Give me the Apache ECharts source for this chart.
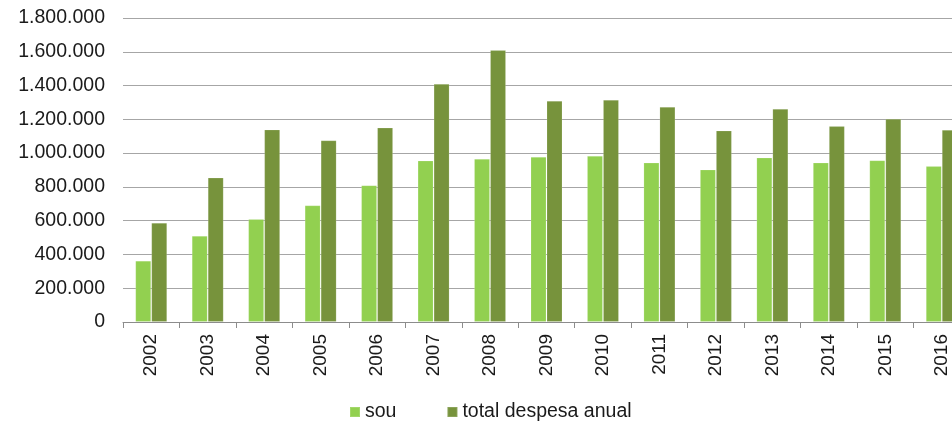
<!DOCTYPE html>
<html>
<head>
<meta charset="utf-8">
<script src="https://cdn.jsdelivr.net/npm/echarts@6/dist/echarts.min.js"></script>
<style>
  html, body { margin: 0; padding: 0; background: #fff; }
  #chart { width: 952px; height: 423px; }
</style>
</head>
<body>
<div id="chart"></div>
<script>
// data
const years = ['2002', '2003', '2004', '2005', '2006', '2007', '2008', '2009',
               '2010', '2011', '2012', '2013', '2014', '2015', '2016']
const sou = [363000, 510000, 610000, 691000, 810000, 956000, 966000, 978000,
             984000, 944000, 903000, 974000, 944000, 958000, 923000]
const totalDespesa = [588000, 855000, 1140000, 1076000, 1151000, 1410000, 1610000, 1310000,
                      1316000, 1274000, 1134000, 1262000, 1160000, 1203000, 1138000]

const fmt = v => String(v).replace(/\B(?=(\d{3})+(?!\d))/g, '.')

const myChart = echarts.init(document.getElementById('chart'))
const font = 'Liberation Sans, Arial, sans-serif'

const option = {
  animation: false,
  textStyle: { fontFamily: font },
  legend: {
    left: 349,
    top: 402,
    padding: 0,
    itemWidth: 10,
    itemHeight: 10,
    itemGap: 50,
    icon: 'rect',
    textStyle: { fontSize: 19.5, color: '#1a1a1a', fontFamily: font, padding: [0, 0, 0, 0] },
    data: ['sou', 'total despesa anual']
  },
  grid: {
    left: 123,
    width: 847,
    top: 18,
    bottom: 101,
    containLabel: false,
    outerBoundsMode: 'none'
  },
  xAxis: {
    type: 'category',
    data: years,
    axisLine: { lineStyle: { color: '#8c8c8c', width: 1 } },
    axisTick: { show: true, length: 6, lineStyle: { color: '#8c8c8c' } },
    axisLabel: {
      rotate: 90,
      fontSize: 19,
      color: '#1a1a1a',
      fontFamily: font,
      margin: 12
    }
  },
  yAxis: {
    type: 'value',
    min: 0,
    max: 1800000,
    interval: 200000,
    axisLine: { show: false },
    axisTick: { show: false },
    splitLine: { lineStyle: { color: '#a6a6a6', width: 1 } },
    axisLabel: {
      fontSize: 19.5,
      color: '#1a1a1a',
      fontFamily: font,
      margin: 18,
      formatter: fmt
    }
  },
  series: [
    {
      name: 'sou',
      type: 'bar',
      data: sou,
      barWidth: 16,
      barGap: '0%',
      itemStyle: { color: '#92d050', borderColor: 'rgba(255,255,255,0.15)', borderWidth: 1 }
    },
    {
      name: 'total despesa anual',
      type: 'bar',
      data: totalDespesa,
      barWidth: 16,
      itemStyle: { color: '#77933c', borderColor: 'rgba(255,255,255,0.15)', borderWidth: 1 }
    }
  ]
}

myChart.setOption(option)
</script>
</body>
</html>
